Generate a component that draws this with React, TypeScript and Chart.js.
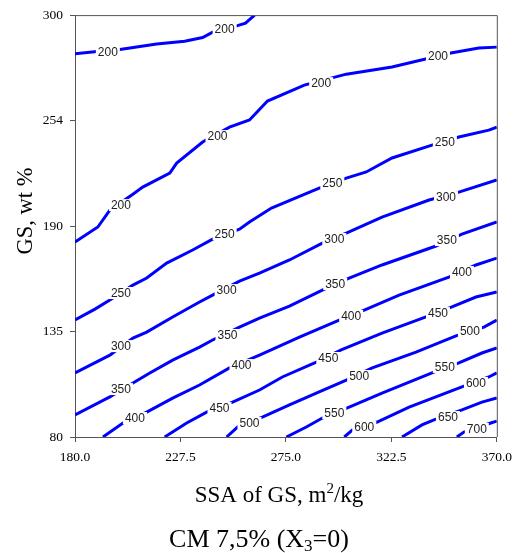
import React, { useEffect, useRef } from "react";
import { Chart, registerables } from "chart.js";

Chart.register(...registerables);

type Pt = [number, number];

// Axis ticks
const xTicks = [180, 227.5, 275, 322.5, 370];
const xTickLabels = ["180.0", "227.5", "275.0", "322.5", "370.0"];
const yTicks = [80, 135, 190, 245, 300];
const yTickLabels = ["80", "135", "190", "254", "300"];

// Contour lines: [SSA, GS] pairs, with label anchors on each line
const c200a: Pt[] = [[180, 279.9], [189.9, 281.0], [200.2, 282.1], [216.8, 284.9], [229.4, 286.4], [237.5, 288.3], [242.0, 291.1], [253.2, 294.5], [256.8, 295.8], [260.9, 300]];
const c200aAt: Pt[] = [[194.8, 280.7], [247.4, 292.7]];

const c200b: Pt[] = [[180, 181.7], [190.3, 189.5], [195.7, 198.3], [205.6, 206.2], [210.5, 210.3], [222.7, 217.6], [225.8, 222.8], [237.5, 233.8], [249.6, 241.6], [258.6, 245.3], [266.7, 255.2], [283.3, 263.5], [302.2, 269.2], [322.8, 272.9], [349.3, 280.2], [361.9, 282.8], [370, 283.3]];
const c200bAt: Pt[] = [[200.7, 200.9], [244.2, 236.9], [290.9, 264.5], [343.5, 278.6]];

const c250: Pt[] = [[180, 141.0], [189.0, 146.7], [195.7, 151.4], [206.1, 159.2], [212.3, 162.9], [221.3, 170.7], [233.0, 177.5], [242.0, 183.2], [254.1, 188.4], [258.6, 192.1], [268.5, 199.4], [290.0, 209.8], [302.2, 215.0], [311.2, 218.2], [322.8, 225.5], [340.8, 232.2], [352.9, 236.4], [366.4, 240.0], [370, 241.6]];
const c250At: Pt[] = [[200.7, 155.1], [247.4, 185.8], [295.9, 212.4], [346.6, 233.8]];

const c300: Pt[] = [[180, 113.4], [195.7, 122.7], [206.1, 131.6], [212.3, 134.7], [224.0, 142.6], [236.1, 150.4], [242.0, 154.0], [254.1, 161.3], [263.1, 165.5], [276.6, 172.3], [291.4, 181.1], [302.2, 186.3], [318.3, 194.7], [339.5, 203.6], [352.9, 207.7], [370, 214.0]];
const c300At: Pt[] = [[200.7, 127.4], [248.3, 156.6], [296.8, 183.2], [347.1, 205.1]];

const c350: Pt[] = [[180, 91.5], [195.7, 100.9], [206.1, 108.2], [213.7, 113.4], [224.0, 120.1], [236.1, 126.9], [242.0, 130.6], [254.1, 137.3], [263.1, 142.0], [276.6, 148.3], [291.4, 156.6], [303.5, 162.9], [318.3, 169.7], [342.6, 179.6], [354.3, 185.8], [370, 192.1]];
const c350At: Pt[] = [[200.7, 105.0], [248.7, 133.2], [297.2, 159.8], [347.5, 182.7]];

const c400: Pt[] = [[192.6, 80], [201.6, 87.3], [212.3, 93.0], [224.0, 100.3], [236.1, 107.1], [249.6, 116.0], [263.1, 122.7], [281.1, 132.1], [299.0, 141.0], [310.3, 146.2], [326.0, 154.0], [348.4, 163.4], [360.6, 169.7], [370, 173.3]];
const c400At: Pt[] = [[207.0, 89.9], [255.0, 117.5], [304.4, 143.1], [354.3, 166.0]];

const c450: Pt[] = [[220.4, 80], [230.3, 87.3], [239.3, 93.0], [251.0, 98.2], [263.1, 104.5], [273.4, 111.3], [288.7, 119.1], [299.9, 125.4], [318.3, 134.2], [338.1, 142.6], [349.8, 147.8], [360.6, 153.0], [370, 155.6]];
const c450At: Pt[] = [[245.1, 95.1], [294.1, 121.2], [343.5, 144.6]];

const c500: Pt[] = [[248.3, 80], [253.2, 85.2], [264.4, 90.4], [276.6, 96.7], [288.7, 102.9], [302.2, 109.7], [313.9, 116.0], [333.6, 124.3], [351.6, 132.7], [364.2, 137.3], [370, 141.0]];
const c500At: Pt[] = [[258.6, 87.3], [308.0, 111.8], [357.9, 135.3]];

const c550: Pt[] = [[275.2, 80], [284.2, 85.2], [291.4, 89.9], [303.5, 95.6], [318.3, 102.9], [340.8, 113.4], [352.9, 118.6], [363.3, 123.8], [370, 126.4]];
const c550At: Pt[] = [[296.8, 92.5], [346.6, 116.5]];

const c600: Pt[] = [[301.3, 80], [304.9, 83.6], [316.1, 87.8], [330.5, 95.6], [354.3, 106.1], [366.4, 111.3], [370, 113.4]];
const c600At: Pt[] = [[310.3, 85.2], [360.6, 108.2]];

const c650: Pt[] = [[327.3, 80], [336.3, 86.3], [341.7, 88.9], [354.3, 94.1], [363.3, 98.2], [370, 100.3]];
const c650At: Pt[] = [[348.0, 90.4]];

const c700: Pt[] = [[352.0, 80], [355.2, 82.6], [367.3, 87.3], [370, 88.3]];
const c700At: Pt[] = [[361.0, 84.2]];

const contours = [
  { level: 200, line: c200a, at: c200aAt },
  { level: 200, line: c200b, at: c200bAt },
  { level: 250, line: c250, at: c250At },
  { level: 300, line: c300, at: c300At },
  { level: 350, line: c350, at: c350At },
  { level: 400, line: c400, at: c400At },
  { level: 450, line: c450, at: c450At },
  { level: 500, line: c500, at: c500At },
  { level: 550, line: c550, at: c550At },
  { level: 600, line: c600, at: c600At },
  { level: 650, line: c650, at: c650At },
  { level: 700, line: c700, at: c700At },
];

const SERIF = '"Liberation Serif", "Times New Roman", serif';
const SANS = '"Liberation Sans", Arial, sans-serif';
const AXIS = "#555555";

// Level labels sit in a white gap cut into each contour line
const levelLabels = {
  id: "levelLabels",
  afterDatasetsDraw(chart: any) {
    const { ctx, scales } = chart;
    ctx.save();
    ctx.font = `12px ${SANS}`;
    ctx.textAlign = "center";
    ctx.textBaseline = "middle";
    for (const c of contours) {
      const text = String(c.level);
      const w = ctx.measureText(text).width;
      for (const [x, y] of c.at) {
        const px = scales.x.getPixelForValue(x);
        const py = scales.y.getPixelForValue(y);
        ctx.fillStyle = "#ffffff";
        ctx.fillRect(px - w / 2 - 2, py - 6, w + 4, 12);
        ctx.fillStyle = "#222222";
        ctx.fillText(text, px, py + 0.5);
      }
    }
    ctx.restore();
  },
};

// Frame and axis titles
const frameAndTitles = {
  id: "frameAndTitles",
  afterDraw(chart: any) {
    const { ctx, chartArea: a } = chart;
    ctx.save();
    ctx.strokeStyle = AXIS;
    ctx.lineWidth = 1;
    ctx.beginPath();
    ctx.moveTo(a.left, a.top + 0.5);
    ctx.lineTo(a.right + 0.5, a.top + 0.5);
    ctx.lineTo(a.right + 0.5, a.bottom);
    ctx.stroke();

    ctx.fillStyle = "#000";
    ctx.textBaseline = "alphabetic";

    // Y title
    ctx.save();
    ctx.font = `22.5px ${SERIF}`;
    ctx.translate(32, 211);
    ctx.rotate(-Math.PI / 2);
    ctx.textAlign = "center";
    ctx.fillText("GS, wt %", 0, 0);
    ctx.restore();

    // X title with superscript, subtitle with subscript
    const drawRuns = (runs: { t: string; size: number; dy: number }[], cx: number, base: number) => {
      let total = 0;
      for (const r of runs) {
        ctx.font = `${r.size}px ${SERIF}`;
        total += ctx.measureText(r.t).width;
      }
      let x = cx - total / 2;
      ctx.textAlign = "left";
      for (const r of runs) {
        ctx.font = `${r.size}px ${SERIF}`;
        ctx.fillText(r.t, x, base + r.dy);
        x += ctx.measureText(r.t).width;
      }
    };
    drawRuns(
      [
        { t: "SSA of GS, m", size: 23, dy: 0 },
        { t: "2", size: 15, dy: -9 },
        { t: "/kg", size: 23, dy: 0 },
      ],
      279,
      502
    );
    drawRuns(
      [
        { t: "CM 7,5% (X", size: 26, dy: 0 },
        { t: "3", size: 17, dy: 4 },
        { t: "=0)", size: 26, dy: 0 },
      ],
      259,
      547
    );
    ctx.restore();
  },
};

export default function App() {
  const ref = useRef<HTMLCanvasElement | null>(null);

  useEffect(() => {
    document.body.style.margin = "0";
    const canvas = ref.current;
    if (!canvas) return;
    const chart = new Chart(canvas, {
      type: "scatter",
      data: {
        datasets: contours.map((c) => ({
          label: String(c.level),
          data: c.line.map(([x, y]) => ({ x, y })),
          showLine: true,
          borderColor: "#0000ff",
          borderWidth: 3,
          pointRadius: 0,
          tension: 0,
          fill: false,
        })),
      },
      options: {
        responsive: false,
        animation: false,
        devicePixelRatio: 1,
        layout: { padding: { left: 0, right: 21, top: 15, bottom: 0 } },
        plugins: { legend: { display: false }, tooltip: { enabled: false } },
        scales: {
          x: {
            type: "linear",
            min: 180,
            max: 370,
            afterBuildTicks: (s: any) => {
              s.ticks = xTicks.map((v) => ({ value: v }));
            },
            afterFit: (s: any) => {
              s.height = 116;
            },
            ticks: {
              autoSkip: false,
              maxRotation: 0,
              padding: 7,
              color: "#000",
              font: { family: SERIF, size: 13.5 },
              callback: (_v: any, i: number) => xTickLabels[i],
            },
            grid: { drawOnChartArea: false, tickLength: 5, tickColor: AXIS },
            border: { color: AXIS, width: 1 },
          },
          y: {
            type: "linear",
            min: 80,
            max: 300,
            afterBuildTicks: (s: any) => {
              s.ticks = yTicks.map((v) => ({ value: v }));
            },
            afterFit: (s: any) => {
              s.width = 75;
            },
            ticks: {
              autoSkip: false,
              padding: 7,
              color: "#000",
              font: { family: SERIF, size: 13.5 },
              callback: (_v: any, i: number) => yTickLabels[i],
            },
            grid: { drawOnChartArea: false, tickLength: 5, tickColor: AXIS },
            border: { color: AXIS, width: 1 },
          },
        },
      },
      plugins: [levelLabels, frameAndTitles],
    } as any);
    return () => chart.destroy();
  }, []);

  return (
    <canvas
      ref={ref}
      width={519}
      height={553}
      style={{ display: "block", width: 519, height: 553 }}
    />
  );
}
